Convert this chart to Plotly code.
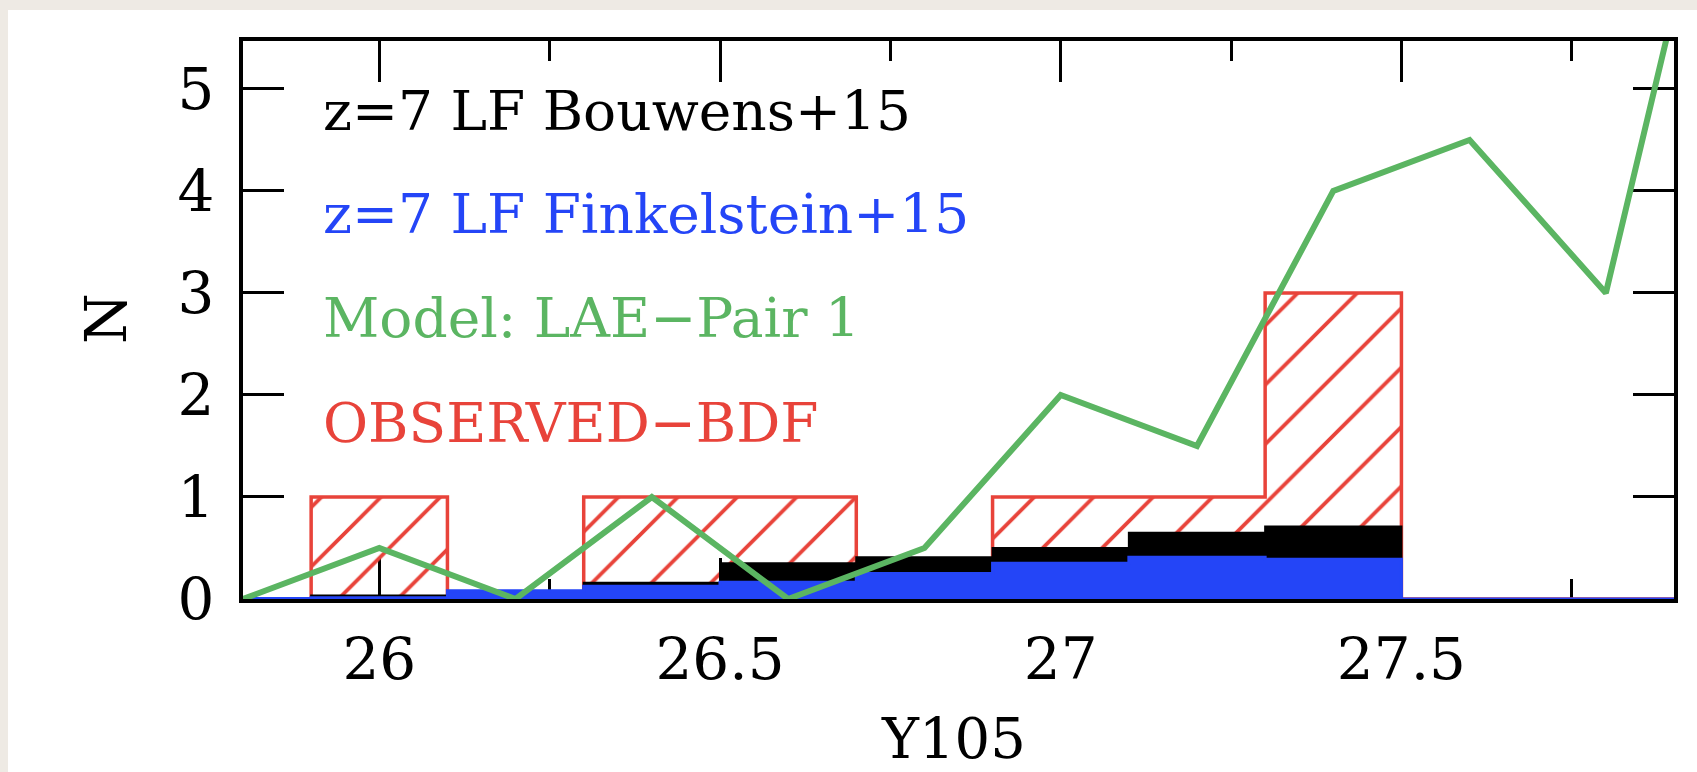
import plotly.graph_objects as go

# ---- data ----
bin_centers = [25.8, 26.0, 26.2, 26.4, 26.6, 26.8, 27.0, 27.2, 27.4, 27.6, 27.8]
bin_width = 0.2
observed_bdf = [0, 1, 0, 1, 1, 0, 1, 1, 3, 0, 0]
bouwens15 = [0.01, 0.035, 0.05, 0.16, 0.35, 0.41, 0.50, 0.65, 0.71, 0, 0]
finkelstein15 = [0.005, 0.012, 0.08, 0.125, 0.165, 0.25, 0.35, 0.41, 0.39, 0, 0]
model_x = [25.8, 26.0, 26.2, 26.4, 26.6, 26.8, 27.0, 27.2, 27.4, 27.6, 27.8, 28.0]
model_lae_pair1 = [0, 0.5, 0, 1, 0, 0.5, 2, 1.5, 4, 4.5, 3, 8.6]

legend_labels = ["z=7 LF Bouwens+15", "z=7 LF Finkelstein+15",
                 "Model: LAE\u2212Pair 1", "OBSERVED\u2212BDF"]
x_ticks = [26, 26.5, 27, 27.5]
x_ticklabels = ["26", "26.5", "27", "27.5"]
y_ticks = [0, 1, 2, 3, 4, 5]

RED = "#E8433A"
BLUE = "#2445F7"
GREEN = "#5BB562"
BLACK = "#000000"
FONT = "DejaVu Serif"


def step_xy(centers, values):
    xs = [c - bin_width / 2 for c in centers] + [centers[-1] + bin_width / 2]
    ys = list(values) + [values[-1]]
    return xs, ys


fig = go.Figure()

xs, ys = step_xy(bin_centers, observed_bdf)
fig.add_trace(go.Scatter(
    x=xs, y=ys, mode="lines", line=dict(color=RED, width=3.5, shape="hv"),
    fill="tozeroy", fillcolor="rgba(0,0,0,0)",
    fillpattern=dict(shape="/", fgcolor=RED, fgopacity=1, bgcolor="rgba(0,0,0,0)",
                     size=42, solidity=0.09),
    hoverinfo="skip"))

xs, ys = step_xy(bin_centers, bouwens15)
fig.add_trace(go.Scatter(
    x=xs, y=ys, mode="lines", line=dict(color=BLACK, width=2, shape="hv"),
    fill="tozeroy", fillcolor=BLACK, hoverinfo="skip"))

xs, ys = step_xy(bin_centers, finkelstein15)
fig.add_trace(go.Scatter(
    x=xs, y=ys, mode="lines", line=dict(color=BLUE, width=3, shape="hv"),
    fill="tozeroy", fillcolor=BLUE, hoverinfo="skip"))

fig.add_trace(go.Scatter(
    x=model_x, y=model_lae_pair1, mode="lines",
    line=dict(color=GREEN, width=6), hoverinfo="skip"))

# in-plot labels
label_colors = [BLACK, BLUE, GREEN, RED]
label_y = [4.78, 3.77, 2.75, 1.73]
for txt, col, yy in zip(legend_labels, label_colors, label_y):
    fig.add_annotation(x=25.914, y=yy, xref="x", yref="y", text=txt,
                       showarrow=False, xanchor="left", yanchor="middle",
                       font=dict(family=FONT, size=55, color=col))

W, H = 1697, 772
ml, mr, mt, mb = 243, 23, 41, 173
pw, ph = W - ml - mr, H - mt - mb

# axis titles
fig.add_annotation(x=(106 - ml) / pw, y=(H - mb - 319) / ph, xref="paper", yref="paper",
                   text="N", showarrow=False, textangle=-90,
                   xanchor="center", yanchor="middle",
                   font=dict(family=FONT, size=58, color=BLACK))
fig.add_annotation(x=(953 - ml) / pw, y=-(738 - (H - mb)) / ph, xref="paper", yref="paper",
                   text="Y105", showarrow=False,
                   xanchor="center", yanchor="middle",
                   font=dict(family=FONT, size=56, color=BLACK))

# white page area over beige background
fig.add_shape(type="rect", xref="paper", yref="paper", layer="below",
              x0=(8 - ml) / pw, x1=(W - ml + 5) / pw,
              y0=-(mb + 5) / ph, y1=1 + (mt - 10) / ph,
              fillcolor="white", line=dict(width=0))

axis_common = dict(showgrid=False, zeroline=False, showline=True, linecolor=BLACK,
                   linewidth=4, mirror="ticks", ticks="inside", tickcolor=BLACK,
                   tickwidth=3, ticklen=41, layer="below traces",
                   tickfont=dict(family=FONT, size=58, color=BLACK))

fig.update_layout(
    width=W, height=H,
    margin=dict(l=ml, r=mr, t=mt, b=mb),
    paper_bgcolor="#EEEAE4", plot_bgcolor="white",
    showlegend=False,
    xaxis=dict(range=[25.8, 27.9], tickvals=x_ticks, ticktext=x_ticklabels,
               ticklabelstandoff=6,
               minor=dict(dtick=0.25, tick0=26, ticks="inside", ticklen=20,
                          tickwidth=3, tickcolor=BLACK, showgrid=False),
               **axis_common),
    yaxis=dict(range=[0, 5.47], tickvals=y_ticks, ticklabelstandoff=13,
               **axis_common),
)

fig.write_html("out.html")
